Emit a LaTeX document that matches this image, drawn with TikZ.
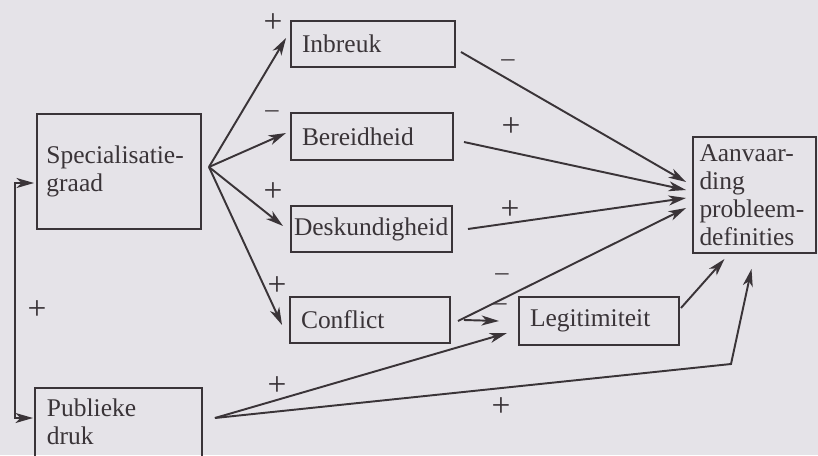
\documentclass[tikz,border=0pt]{standalone}
\usepackage{fontspec}
\setmainfont{Liberation Serif}
\usetikzlibrary{arrows.meta,calc}

\definecolor{inkt}{RGB}{58,52,56}
\definecolor{papier}{RGB}{229,227,232}

\tikzset{
  blok/.style={draw=inkt, line width=1.1pt, rectangle, align=left, text=inkt,
    inner xsep=2.2mm, inner ysep=0.5mm, font=\fontsize{14.5}{16}\selectfont},
  pijl/.style={draw=inkt, line width=1.1pt, -{Stealth[length=3.5mm,width=2mm,inset=1mm]}},
  dubbelpijl/.style={draw=inkt, line width=1.1pt,
    {Stealth[length=3.5mm,width=2mm,inset=1mm]}-{Stealth[length=3.5mm,width=2mm,inset=1mm]}},
  teken/.style={text=inkt, font=\fontsize{19}{20}\selectfont, inner sep=0pt},
  min/.style={text=inkt, font=\fontsize{15}{16}\selectfont, inner sep=0pt},
}

\begin{document}
\begin{tikzpicture}[x=0.2mm,y=-0.2mm]
\useasboundingbox (0,0) rectangle (818,455);
\fill[papier] (0,0) rectangle (818,455);
\clip (0,0) rectangle (818,455);

% blokken
\node[blok, text width=29mm, inner xsep=1.9mm, minimum height=23mm] (spec) at (119,171.5) {Specialisatie-\\graad};
\node[blok, text width=28.4mm, minimum height=9.2mm] (inbreuk) at (373,44) {Inbreuk};
\node[blok, text width=28mm, minimum height=9.4mm] (bereid) at (372,136.5) {Bereidheid};
\node[blok, text width=31mm, inner xsep=0.6mm, minimum height=9.2mm] (desk) at (371.5,229) {Deskundigheid};
\node[blok, text width=27.6mm, minimum height=9.2mm] (conflict) at (370,320) {Conflict};
\node[blok, text width=27.6mm, minimum height=9.6mm] (legit) at (599,321) {Legitimiteit};
\node[blok, text width=22mm, inner xsep=1.3mm, minimum height=23.2mm] (aanv) at (754.5,195) {Aanvaar-\\ding\\probleem-\\definities};
\node[blok, draw=none, text width=28.6mm, inner ysep=2mm, anchor=north west] (publiek) at (35,388) {Publieke\\druk};
% onderkant valt buiten het beeld
\draw[inkt, line width=1.1pt] (publiek.north west) rectangle ($(publiek.north east)+(0,120)$);

% vertakkingspunten
\coordinate (spec-uit) at ($(spec.east)+(7,-4.5)$);
\coordinate (publiek-uit) at ($(publiek.north east)+(13,30)$);
\coordinate (knik) at (731,364);

% pijlen vanuit specialisatiegraad
\draw[pijl] (spec-uit) -- ($(inbreuk.west)+(-4,-6)$);
\draw[pijl] (spec-uit) -- ($(bereid.west)+(-4,-3.5)$);
\draw[pijl] (spec-uit) -- ($(desk.west)+(-7,-3)$);
\draw[pijl] (spec-uit) -- ($(conflict.west)+(-7,5)$);

% terugkoppeling
\draw[dubbelpijl] ($(spec.west)+(-2,11.5)$) -| (15,300) |- ($(publiek.north west)+(-2,30)$);

% pijlen naar aanvaarding
\draw[pijl] ($(inbreuk.east)+(5,8)$) -- ($(aanv.west)+(-6,-13)$);
\draw[pijl] ($(bereid.east)+(10,5.5)$) -- ($(aanv.west)+(-6,-5)$);
\draw[pijl] ($(desk.east)+(15,0)$) -- ($(aanv.west)+(-6,3)$);
\draw[pijl] ($(conflict.east)+(7,1)$) -- ($(aanv.west)+(-6,13)$);
\draw[pijl] ($(conflict.east)+(13,0)$) -- ($(legit.west)+(-19,0)$);
\draw[pijl] ($(legit.east)+(1,-13)$) -- ($(aanv.south)+(-30,5)$);

% publieke druk
\draw[pijl] (publiek-uit) -- ($(legit.west)+(-11,12)$);
\draw[pijl] (publiek-uit) -- (knik) -- ($(aanv.south)+(-3,15)$);

% tekens
\node[teken] (t1) at (273,23) {+};
\node[min] (t2) at (272,114) {–};
\node[teken] (t3) at (273,192) {+};
\node[teken] (t4) at (277,286) {+};
\node[teken] (t5) at (37,310) {+};
\node[teken] (t6) at (277,386) {+};
\node[teken] (t7) at (501,407) {+};
\node[min] (t8) at (508,63) {–};
\node[teken] (t9) at (511,127) {+};
\node[teken] (t10) at (510,210) {+};
\node[min] (t11) at (502,277) {–};
\node[min] (t12) at (500,307) {–};

\end{tikzpicture}
\end{document}
